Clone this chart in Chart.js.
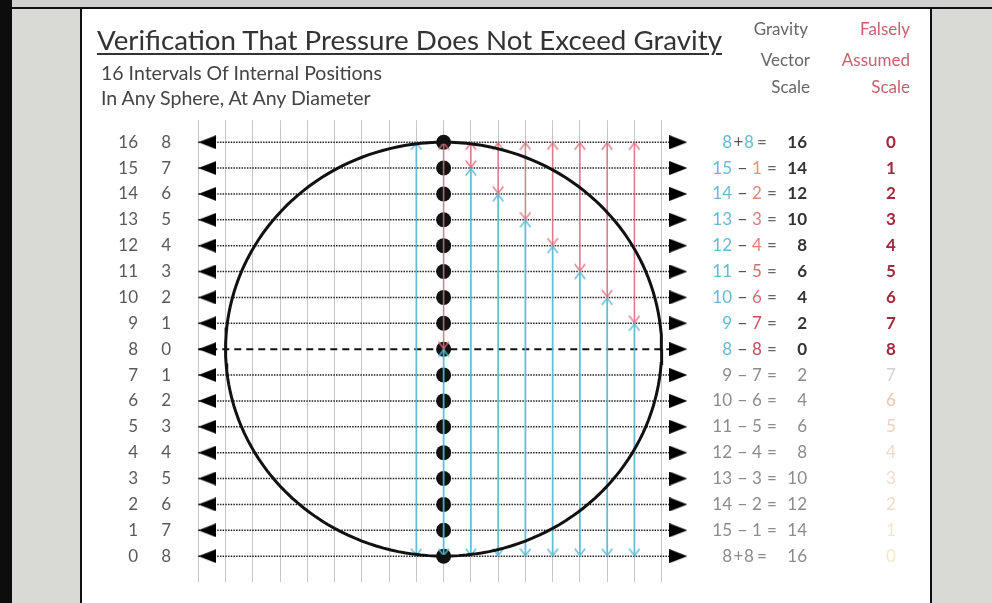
<!DOCTYPE html>
<html><head><meta charset="utf-8">
<script src="https://cdn.jsdelivr.net/npm/chart.js@4/dist/chart.umd.min.js"></script>
<style>
html,body{margin:0;padding:0;width:992px;height:603px;overflow:hidden;background:#d9d9d5;font-family:Lato,sans-serif;}
#topband{position:absolute;left:0;top:0;width:992px;height:7px;background:#d0d0d0;border-bottom:2px solid #111;}
#leftbar{position:absolute;left:0;top:0;width:12px;height:603px;background:#0d0d0d;}
#panel{position:absolute;left:80px;top:9px;width:848px;height:600px;background:#fff;border-left:2px solid #111;border-right:2px solid #111;}
#c{position:absolute;left:0;top:0;}
.t{position:absolute;white-space:nowrap;line-height:1;font-family:Lato,sans-serif;}
#title{left:97px;top:26px;font-size:24px;color:#333;text-decoration:underline;text-underline-offset:3px;text-decoration-thickness:1.5px;}
.sub{left:101px;font-size:15px;color:#444;}
.hdr{font-size:17px;text-align:right;}
</style></head>
<body>
<div id="topband"></div><div id="leftbar"></div><div id="panel"></div>
<canvas id="c" width="992" height="603"></canvas>
<div class="t" id="title">Verification That Pressure Does Not Exceed Gravity</div>
<div class="t sub" id="sub1" style="top:63px">16 Intervals Of Internal Positions</div>
<div class="t sub" id="sub2" style="top:88px">In Any Sphere, At Any Diameter</div>
<div class="t hdr" style="right:184px;top:20px;color:#666">Gravity</div>
<div class="t hdr" style="right:182px;top:51px;color:#666">Vector</div>
<div class="t hdr" style="right:182px;top:78px;color:#666">Scale</div>
<div class="t hdr" style="right:82px;top:20px;color:#c8606e">Falsely</div>
<div class="t hdr" style="right:82px;top:51px;color:#c8606e">Assumed</div>
<div class="t hdr" style="right:82px;top:78px;color:#c8606e">Scale</div>
<script>
// ---------- data ----------
const rowValues   = [16,15,14,13,12,11,10,9,8,7,6,5,4,3,2,1,0];
const outerLabels = ['16','15','14','13','12','11','10','9','8','7','6','5','4','3','2','1','0'];
const innerLabels = ['8','7','6','5','4','3','2','1','0','1','2','3','4','5','6','7','8'];
const eqFirst     = ['8','15','14','13','12','11','10','9','8','9','10','11','12','13','14','15','8'];
const eqOperator  = ['+','−','−','−','−','−','−','−','−','−','−','−','−','−','−','−','+'];
const eqSecond    = ['8','1','2','3','4','5','6','7','8','7','6','5','4','3','2','1','8'];
const eqResult    = ['16','14','12','10','8','6','4','2','0','2','4','6','8','10','12','14','16'];
const falseScale  = ['0','1','2','3','4','5','6','7','8','7','6','5','4','3','2','1','0'];

const redColumns  = [0,1,2,3,4,5,6,7];
const redTop      = [16,16,16,16,16,16,16,16];
const redBottom   = [8,15,14,13,12,11,10,9];
const cyanColumns = [-1,0,1,2,3,4,5,6,7];
const cyanTop     = [16,8,15,14,13,12,11,10,9];
const cyanBottom  = [0,0,0,0,0,0,0,0,0];
const dotColumn = 0;
const circleCenterX = 0, circleCenterY = 8, circleRadius = 8;
const dashedRow = 8;
const lastGridColumn = 8;

// ---------- styles ----------
const RED = 'rgba(221,112,128,0.85)';
const CYAN = 'rgba(90,186,212,0.9)';
const secondColors = ['#62bcd6','#e8906f','#e2867a','#d97a86','#e0806f','#d86a6a','#d66c7c','#cc4f5f','#c9485c'];
const fadeColors = ['#d2d2d2','#efc5ab','#f2d0bb','#f4d9c6','#f2dcca','#f2dec8','#f5e6d2','#f3e8c8'];
const LEFT_ARROW_X = -8.67, RIGHT_ARROW_X = 8.61, LINE_START = -9, LINE_END = 8.6;

function mk(w,h,draw){const c=document.createElement('canvas');c.width=w;c.height=h;const g=c.getContext('2d');draw(g);return c;}
const triLeft = mk(18,14,g=>{g.fillStyle='#000';g.beginPath();g.moveTo(0,7);g.lineTo(18,0);g.lineTo(18,14);g.closePath();g.fill();});
const triRight = mk(18,14,g=>{g.fillStyle='#000';g.beginPath();g.moveTo(18,7);g.lineTo(0,0);g.lineTo(0,14);g.closePath();g.fill();});
function chevron(color,up){return mk(12,18,g=>{g.strokeStyle=color;g.lineWidth=1.6;g.beginPath();
  if(up){g.moveTo(0.8,16.5);g.lineTo(6,9.5);g.lineTo(11.2,16.5);}else{g.moveTo(0.8,1.5);g.lineTo(6,8.5);g.lineTo(11.2,1.5);}
  g.stroke();});}
const redUp=chevron(RED,true), redDown=chevron(RED,false), cyanUp=chevron(CYAN,true), cyanDown=chevron(CYAN,false);

const datasets = [];
rowValues.forEach(r=>{
  datasets.push({data:[{x:LINE_START,y:r},{x:LINE_END,y:r}],showLine:true,pointRadius:0,clip:false,
    borderColor: r===dashedRow?'#111':'#222', borderWidth: r===dashedRow?2:1.5,
    borderDash: r===dashedRow?[7,5]:[1.5,1.2], order:6});
});
datasets.push({data:rowValues.map(r=>({x:LEFT_ARROW_X,y:r})),showLine:false,pointStyle:triLeft,pointRadius:20,clip:false,order:5});
datasets.push({data:rowValues.map(r=>({x:RIGHT_ARROW_X,y:r})),showLine:false,pointStyle:triRight,pointRadius:20,clip:false,order:5});
datasets.push({data:rowValues.map(r=>({x:dotColumn,y:r})),showLine:false,pointStyle:'circle',pointRadius:7.5,
  pointBackgroundColor:'#111',pointBorderWidth:0,clip:false,order:4});
redColumns.forEach((c,i)=>{
  datasets.push({data:[{x:c,y:redTop[i]},{x:c,y:redBottom[i]}],showLine:true,pointRadius:0,borderColor:RED,borderWidth:1.6,clip:false,order:3});
});
datasets.push({data:redColumns.map((c,i)=>({x:c,y:redTop[i]})),showLine:false,pointStyle:redUp,pointRadius:20,clip:false,order:2});
datasets.push({data:redColumns.map((c,i)=>({x:c,y:redBottom[i]})),showLine:false,pointStyle:redDown,pointRadius:20,clip:false,order:2});
cyanColumns.forEach((c,i)=>{
  datasets.push({data:[{x:c,y:cyanTop[i]},{x:c,y:cyanBottom[i]}],showLine:true,pointRadius:0,borderColor:CYAN,borderWidth:1.8,clip:false,order:3});
});
datasets.push({data:cyanColumns.map((c,i)=>({x:c,y:cyanTop[i]})),showLine:false,pointStyle:cyanUp,pointRadius:20,clip:false,order:2});
datasets.push({data:cyanColumns.map((c,i)=>({x:c,y:cyanBottom[i]})),showLine:false,pointStyle:cyanDown,pointRadius:20,clip:false,order:2});
const circlePts=[];
for(let k=0;k<=180;k++){const a=k/180*2*Math.PI;circlePts.push({x:circleCenterX+circleRadius*Math.cos(a),y:circleCenterY+circleRadius*Math.sin(a)});}
datasets.push({data:circlePts,showLine:true,pointRadius:0,borderColor:'#111',borderWidth:3,clip:false,order:1});

const labelPlugin={id:'rowLabels',afterDatasetsDraw(chart){
  const ctx=chart.ctx, ys=chart.scales.y;
  ctx.save(); ctx.textBaseline='middle';
  rowValues.forEach((r,i)=>{
    const y=ys.getPixelForValue(r);
    ctx.font='17px Lato'; ctx.fillStyle='#5a5a5a'; ctx.textAlign='right';
    ctx.fillText(outerLabels[i],138,y); ctx.fillText(innerLabels[i],171,y);
    const upper = i<=8; const plus = eqOperator[i]==='+';
    const gray='#8c8c8c';
    ctx.font='17px Lato';
    ctx.textAlign='right'; ctx.fillStyle=upper?'#62bcd6':gray; ctx.fillText(eqFirst[i],732,y);
    ctx.textAlign='center'; ctx.fillStyle=upper?'#555':gray; ctx.fillText(eqOperator[i],plus?738.5:742.5,y);
    ctx.textAlign='left'; ctx.fillStyle=upper?secondColors[i]:gray; ctx.fillText(eqSecond[i],plus?744:752,y);
    ctx.textAlign='center'; ctx.fillStyle=upper?'#666':gray; ctx.fillText('=',plus?762:772,y);
    ctx.textAlign='right'; ctx.font=(upper?'bold ':'')+'17px Lato'; ctx.fillStyle=upper?'#333':gray; ctx.fillText(eqResult[i],807,y);
    ctx.textAlign='center'; ctx.font=(upper?'bold ':'')+'17px Lato'; ctx.fillStyle=upper?'#a3283d':fadeColors[i-9];
    ctx.fillText(falseScale[i],891,y);
  });
  ctx.restore();
}};

new Chart(document.getElementById('c'),{
  type:'scatter',
  data:{datasets},
  options:{
    responsive:false, animation:false, devicePixelRatio:1, events:[],
    layout:{padding:{left:198.3,right:297.6,top:120.2,bottom:3.1}},
    plugins:{legend:{display:false},tooltip:{enabled:false},title:{display:false}},
    scales:{
      x:{type:'linear',min:-9,max:9.2,ticks:{display:false,stepSize:1},
         grid:{color:c=>(c.tick && c.tick.value>lastGridColumn)?'rgba(0,0,0,0)':'#c6c6c6',lineWidth:1,drawTicks:false},
         border:{display:false},afterFit:s=>{s.height=0;}},
      y:{type:'linear',min:-1,max:16.85,display:false}
    }
  },
  plugins:[labelPlugin]
});

function fit(id,target){const el=document.getElementById(id);const w=el.getBoundingClientRect().width;const fs=parseFloat(getComputedStyle(el).fontSize);el.style.fontSize=(fs*target/w)+'px';}
fit('title',625); fit('sub1',281); fit('sub2',270);
</script>
</body></html>
